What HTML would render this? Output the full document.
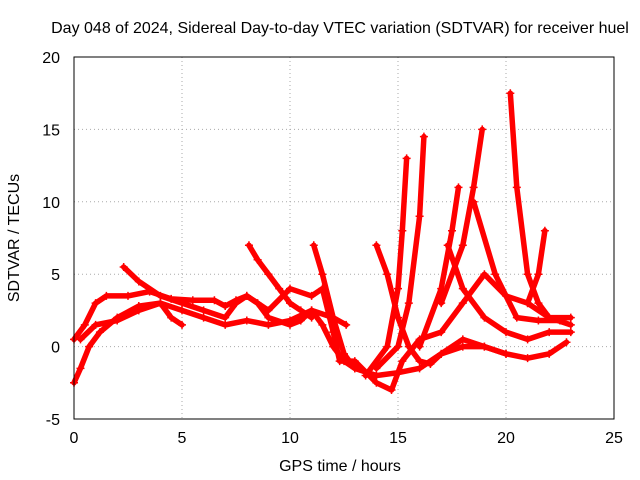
<!DOCTYPE html>
<html><head><meta charset="utf-8"><style>
body{margin:0;background:#fff;}
svg{display:block;font-family:"Liberation Sans",sans-serif;font-size:16px;}
</style></head><body>
<svg id="chart" width="640" height="480">
<text x="340" y="33" text-anchor="middle">Day 048 of 2024, Sidereal Day-to-day VTEC variation (SDTVAR) for receiver huel</text>
<g id="grid"></g>
<g id="axes"></g>
<g id="series"></g>
<rect x="74" y="57" width="540" height="362" fill="none" stroke="#000"/>
<text x="340" y="471" text-anchor="middle">GPS time / hours</text>
<text transform="translate(19,238) rotate(-90)" text-anchor="middle">SDTVAR / TECUs</text>
</svg>
<script>
const xTicks=[0,5,10,15,20,25];
const yTicks=[-5,0,5,10,15,20];
const track1=[[0,-2.5],[0.3,-1.5],[0.7,0],[1.2,1],[2,2],[3,2.8],[4,3],[5,2.5],[6,2],[7,1.5],[8,1.8],[9,1.5],[10,1.8],[11,2.5],[11.5,1.5],[12,0],[12.5,-1],[13,-1.5],[14,-2],[15,-1.8],[16,-1.5],[17,-0.5],[18,0],[19,0],[20,-0.5],[21,-0.8],[22,-0.5],[22.8,0.3]];
const track2=[[0,0.5],[0.5,1.5],[1,3],[1.5,3.5],[2.5,3.5],[3.5,3.8],[4.5,3.3],[5.5,3.2],[6.5,3.2],[7,2.8],[7.5,3.2],[8,3.5],[9,2.5],[10,4],[11,3.5],[11.5,4],[12,1],[12.3,-1],[13,-1],[14,-2.5],[14.7,-3],[15.2,-1],[16,0.5],[17,1],[18,3],[19,5],[20,3.5],[21,3],[22,2],[23,2]];
const track3=[[2.3,5.5],[3,4.5],[4,3.5],[5,3],[6,2.5],[7,2],[7.5,3],[8,3.5],[8.5,3],[9,2],[10,1.5],[10.5,1.8],[11,2.5],[12,2],[12.6,1.5]];
const track4=[[0.3,0.5],[1,1.5],[2,1.8],[3,2.5],[4,3],[4.5,2],[5,1.5]];
const track5=[[8.1,7],[8.5,6],[9,5],[9.5,4],[10,3],[10.5,2.5],[11,2]];
const track6=[[11.1,7],[11.5,5],[12,2],[12.5,-0.5],[13,-1.5],[14,-2]];
const track7=[[14,7],[14.5,5],[15,2],[15.5,0],[16,-1],[16.5,-1.2],[17,-0.5],[18,0.5],[19,0],[20,-0.5]];
const track8=[[13.5,-2],[14.5,0],[15,4],[15.2,8],[15.4,13]];
const track9=[[14,-1.5],[15,0],[15.5,3],[16,9],[16.2,14.5]];
const track10=[[16,0],[17,4],[17.5,8],[17.8,11]];
const track11=[[17,3],[18,7],[18.5,11],[18.9,15]];
const track12=[[17.3,7],[18,4],[19,2],[20,1],[21,0.5],[22,1],[23,1]];
const track13=[[18.5,10],[19.5,5],[20.5,2],[21.5,1.8],[22.5,1.8]];
const track14=[[20.2,17.5],[20.5,11],[21,5],[21.5,3],[22,2],[23,1.5]];
const track15=[[21,3],[21.5,5],[21.8,8]];
const tracks=[track1,track2,track3,track4,track5,track6,track7,track8,track9,track10,track11,track12,track13,track14,track15];
const NS="http://www.w3.org/2000/svg";
const X=v=>74+v*21.6, Y=v=>419-(v+5)*14.48;
const grid=document.getElementById('grid'),axes=document.getElementById('axes'),ser=document.getElementById('series');
function mk(tag,attrs,parent){const e=document.createElementNS(NS,tag);for(const k in attrs)e.setAttribute(k,attrs[k]);parent.appendChild(e);return e;}
xTicks.forEach(t=>{
 const g=mk('line',{x1:X(t),x2:X(t),y1:57,y2:419,stroke:'#aaa','stroke-dasharray':'1,3'},grid);
 
 
 const l=mk('text',{x:X(t),y:443,'text-anchor':'middle'},axes);l.textContent=t;
 
 
});
yTicks.forEach(t=>{
 const g=mk('line',{x1:74,x2:614,y1:Y(t),y2:Y(t),stroke:'#aaa','stroke-dasharray':'1,3'},grid);
 
 
 const l=mk('text',{x:60,y:Y(t)+6,'text-anchor':'end'},axes);l.textContent=t;
 
 
});
tracks.forEach(tr=>{
 const p=mk('polyline',{points:tr.map(d=>X(d[0])+','+Y(d[1])).join(' '),fill:'none',stroke:'#f00','stroke-width':5.5,'stroke-linejoin':'round','stroke-linecap':'round'},ser);
 
 
 tr.forEach(d=>{
  const m=mk('path',{d:`M${X(d[0])-4},${Y(d[1])}h8M${X(d[0])},${Y(d[1])-4}v8`,stroke:'#f00','stroke-width':1.5},ser);
  
  
 });
});
</script>
</body></html>
